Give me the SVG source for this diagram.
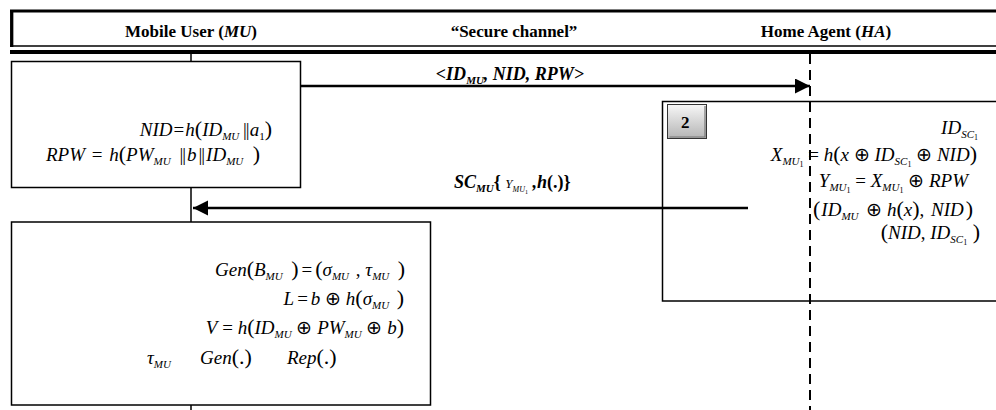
<svg xmlns="http://www.w3.org/2000/svg" width="996" height="410" viewBox="0 0 996 410" font-family="'Liberation Serif', 'Times New Roman', Times, serif">
  <defs>
    <style>
      .hdr { font-family: "Liberation Serif", "Times New Roman", Times, serif; font-weight: bold; font-size: 17px; fill: #000; }
      .m { font-family: "Liberation Serif", "Times New Roman", Times, serif; font-style: italic; font-size: 19px; fill: #000; }
      .lbl { font-family: "Liberation Serif", "Times New Roman", Times, serif; font-style: italic; font-weight: bold; font-size: 18px; fill: #000; }
      .u { font-style: normal; }
      .bar { font-style: normal; letter-spacing: -1px; }
      .s { font-size: 11px; }
      .ss { font-size: 8px; font-style: normal; }
      .big { font-style: normal; font-size: 22px; }
      .box { fill: #fff; stroke: #000; stroke-width: 1.5; }
      .open { fill: none; stroke: #000; stroke-width: 1.5; }
      .rule { stroke: #000; fill: none; }
      .msg { stroke: #000; stroke-width: 2.5; fill: none; }
    </style>
    <marker id="head" markerUnits="userSpaceOnUse" markerWidth="16" markerHeight="16" refX="15" refY="7.5" orient="auto">
      <path d="M0,0 L15,7.5 L0,15 z" fill="#000"/>
    </marker>
    <linearGradient id="badgeFill" x1="0" y1="0" x2="0" y2="1">
      <stop offset="0" stop-color="#f7f7f7"/>
      <stop offset="1" stop-color="#b4b4b4"/>
    </linearGradient>
  </defs>

  <rect width="996" height="410" fill="#fff"/>

  <!-- header band -->
  <g id="header">
    <line class="rule" x1="10" y1="11" x2="996" y2="11" stroke-width="3"/>
    <line class="rule" x1="11.7" y1="10" x2="11.7" y2="47" stroke-width="3.3"/>
    <line class="rule" x1="10" y1="46" x2="996" y2="46" stroke-width="1.5"/>
    <line class="rule" x1="10" y1="52" x2="996" y2="52" stroke-width="4"/>
    <text class="hdr" x="191" y="37" text-anchor="middle">Mobile User (<tspan font-style="italic">MU</tspan>)</text>
    <text class="hdr" x="514" y="37" text-anchor="middle">“Secure channel”</text>
    <text class="hdr" x="826" y="37" text-anchor="middle">Home Agent (<tspan font-style="italic">HA</tspan>)</text>
  </g>

  <!-- lifelines and messages -->
  <g id="connectors">
    <line class="rule" x1="191" y1="54" x2="191" y2="410" stroke-width="1.5"/>
    <line class="rule" x1="810" y1="54" x2="810" y2="410" stroke-width="2" stroke-dasharray="10,6"/>
    <line class="msg" x1="300" y1="86" x2="810" y2="86" marker-end="url(#head)"/>
    <line class="msg" x1="748" y1="208" x2="193" y2="208" marker-end="url(#head)"/>
    <text class="lbl" x="510" y="80" text-anchor="middle">&lt;ID<tspan class="s" dy="4">MU</tspan><tspan dy="-4">, NID, RPW&gt;</tspan></text>
    <text class="lbl" x="454" y="188">SC<tspan class="s" dy="4">MU</tspan><tspan dy="-4" font-style="normal">{ </tspan><tspan font-weight="normal" font-size="13px">Y</tspan><tspan font-weight="normal" font-size="8px" dy="4">MU</tspan><tspan font-weight="normal" font-style="normal" font-size="6px" dy="2">1</tspan><tspan dy="-6"> ,h</tspan><tspan font-style="normal">(.)}</tspan></text>
  </g>

  <!-- MU: registration request -->
  <g id="mu-request">
    <rect class="box" x="11.5" y="61.5" width="289" height="126"/>
    <text class="m" x="272" y="136" text-anchor="end">NID<tspan class="u" dx="1">=</tspan><tspan dx="1">h</tspan><tspan class="big">(</tspan>ID<tspan class="s" dy="4">MU</tspan><tspan class="bar" dy="-4"> ||</tspan><tspan dx="1">a</tspan><tspan class="s u" dy="4">1</tspan><tspan class="big" dy="-4">)</tspan></text>
    <text class="m" x="46" y="161">RPW<tspan class="u" dx="2"> = </tspan><tspan dx="2">h</tspan><tspan class="big">(</tspan>PW<tspan class="s" dy="4">MU</tspan><tspan class="bar" dy="-4" dx="5"> ||</tspan><tspan dx="2">b</tspan><tspan class="bar" dx="2">||</tspan><tspan dx="2">ID</tspan><tspan class="s" dy="4">MU</tspan><tspan class="big" dy="-4" dx="4"> )</tspan></text>
  </g>

  <!-- HA: step 2 -->
  <g id="ha-step2">
    <path class="open" d="M1000,101.5 H662.5 V301 H1000"/>
    <rect x="667.5" y="104.5" width="39" height="34" fill="url(#badgeFill)" stroke="#333" stroke-width="1"/>
    <path d="M669.5,137 H705 V106" fill="none" stroke="#777" stroke-width="1.2"/>
    <text class="hdr" x="681" y="128">2</text>
    <text class="m" x="978" y="134" text-anchor="end">ID<tspan class="s" dy="4">SC</tspan><tspan class="ss" dy="2">1</tspan></text>
    <text class="m" x="977" y="161" text-anchor="end">X<tspan class="s" dy="4">MU</tspan><tspan class="ss" dy="2">1</tspan><tspan class="u" dy="-6"> = </tspan>h<tspan class="big">(</tspan>x<tspan class="u"> ⊕ </tspan>ID<tspan class="s" dy="4">SC</tspan><tspan class="ss" dy="2">1</tspan><tspan class="u" dy="-6"> ⊕ </tspan>NID<tspan class="big">)</tspan></text>
    <text class="m" x="968" y="187" text-anchor="end">Y<tspan class="s" dy="4">MU</tspan><tspan class="ss" dy="2">1</tspan><tspan class="u" dy="-6"> = </tspan>X<tspan class="s" dy="4">MU</tspan><tspan class="ss" dy="2">1</tspan><tspan class="u" dy="-6"> ⊕ </tspan>RPW</text>
    <text class="m" x="813" y="216"><tspan class="big">(</tspan><tspan dx="1">ID</tspan><tspan class="s" dy="4">MU</tspan><tspan class="u" dy="-4" dx="3"> ⊕ </tspan>h<tspan class="big">(</tspan>x<tspan class="big">)</tspan><tspan class="u">, </tspan><tspan dx="2">NID</tspan><tspan class="big" dx="2">)</tspan></text>
    <text class="m" x="980" y="239" text-anchor="end"><tspan class="big">(</tspan>NID<tspan class="u">, </tspan>ID<tspan class="s" dy="4">SC</tspan><tspan class="ss" dy="2">1</tspan><tspan class="big" dy="-6"> )</tspan></text>
  </g>

  <!-- MU: biometric set-up -->
  <g id="mu-setup">
    <rect class="box" x="11.5" y="222" width="419" height="183"/>
    <text class="m" x="215" y="276">Gen<tspan class="big">(</tspan>B<tspan class="s" dy="4">MU</tspan><tspan class="big" dy="-4" dx="3"> )</tspan><tspan class="u" dx="3">=</tspan><tspan class="big" dx="3">(</tspan>σ<tspan class="s" dy="4">MU</tspan><tspan class="u" dy="-4" dx="2"> , </tspan>τ<tspan class="s" dy="4">MU</tspan><tspan class="big" dy="-4" dx="3"> )</tspan></text>
    <text class="m" x="404" y="305" text-anchor="end">L<tspan class="u" dx="3">=</tspan><tspan dx="3">b</tspan><tspan class="u"> ⊕ </tspan>h<tspan class="big">(</tspan>σ<tspan class="s" dy="4">MU</tspan><tspan class="big" dy="-4" dx="2"> )</tspan></text>
    <text class="m" x="404" y="334" text-anchor="end">V<tspan class="u"> = </tspan>h<tspan class="big">(</tspan>ID<tspan class="s" dy="4">MU</tspan><tspan class="u" dy="-4"> ⊕ </tspan>PW<tspan class="s" dy="4">MU</tspan><tspan class="u" dy="-4"> ⊕ </tspan>b<tspan class="big">)</tspan></text>
    <text class="m" x="147" y="364">τ<tspan class="s" dy="4">MU</tspan></text>
    <text class="m" x="200" y="364">Gen<tspan class="big">(.)</tspan></text>
    <text class="m" x="287" y="364">Rep<tspan class="big">(.)</tspan></text>
  </g>
</svg>
